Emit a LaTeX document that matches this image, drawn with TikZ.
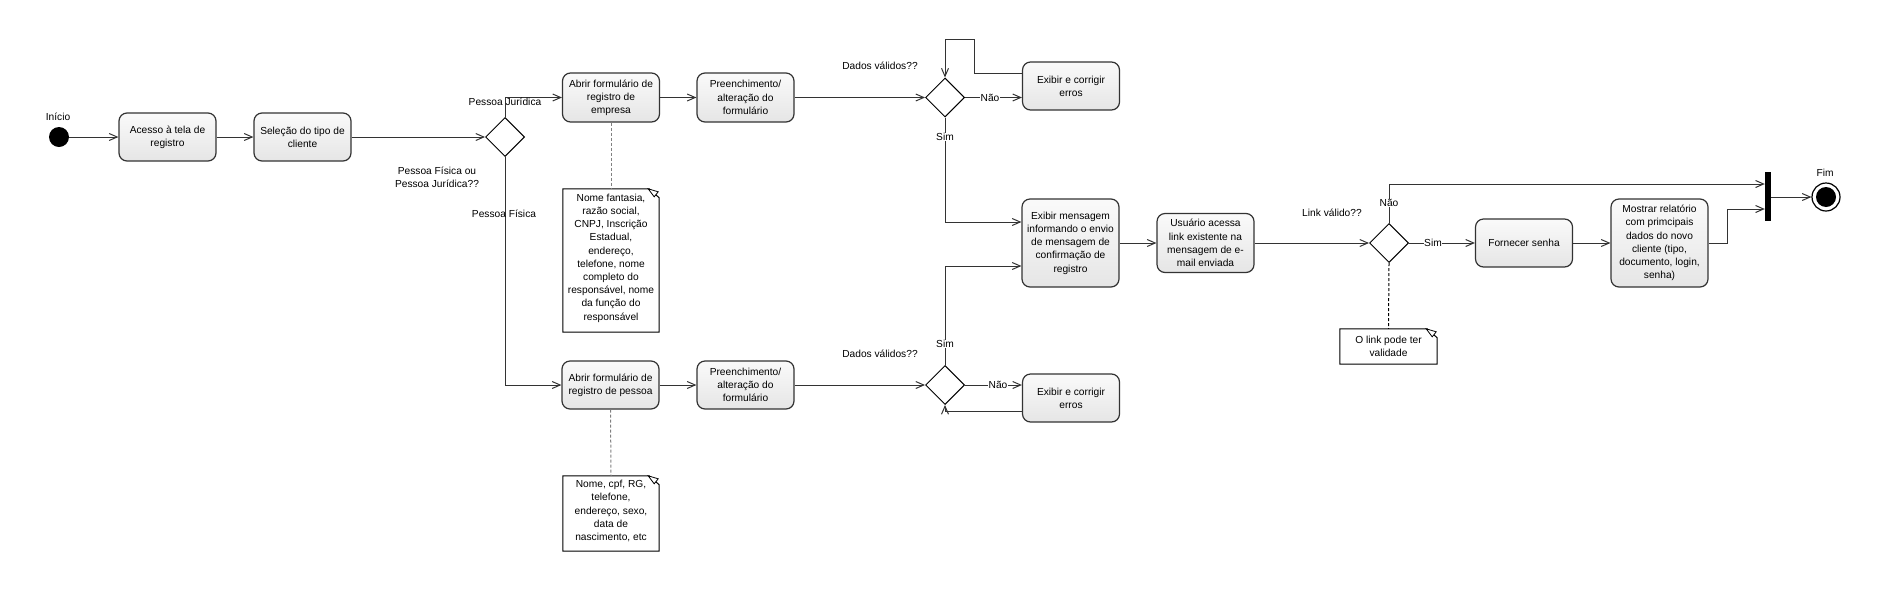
\documentclass[tikz,border=0pt]{standalone}
\usepackage{fontspec}
\setmainfont{Liberation Sans}
\usetikzlibrary{arrows.meta,shapes.geometric,calc}
\definecolor{edge}{HTML}{333333}
\tikzset{
  every node/.style={font=\fontsize{10.2}{13.2}\selectfont, align=center},
  act/.style={draw=edge, line width=1.2pt, rounded corners=8pt, top color=gray!4, bottom color=gray!20, inner sep=1pt, minimum width=97pt, minimum height=48pt},
  dec/.style={shape=diamond, draw=black, fill=white, line width=1pt, minimum width=39pt, minimum height=39pt, inner sep=0pt},
  notebox/.style={draw=none, inner sep=1pt, minimum width=96pt},
  arr/.style={draw=edge, line width=1pt, -{Straight Barb[length=8pt,width=7pt]}},
  ln/.style={draw=edge, line width=1pt},
  dsh/.style={draw=gray, line width=1pt, dash pattern=on 3pt off 2pt},
  lbl/.style={inner sep=0.5pt},
  onl/.style={inner sep=0.5pt, fill=white}
}
\newcommand\dogear[1]{%
  \draw[black, line width=1pt, fill=white] (#1.north west) -- ([xshift=-10pt]#1.north east) -- ([yshift=-9pt]#1.north east) -- (#1.south east) -- (#1.south west) -- cycle;
  \draw[black, line width=0.8pt, fill=white] ([xshift=-11pt]#1.north east) -- ([xshift=-1pt,yshift=-3pt]#1.north east) -- ([xshift=-5pt,yshift=-8pt]#1.north east) -- cycle;
}
\begin{document}
\begin{tikzpicture}[x=1pt,y=-1pt]
\useasboundingbox (0,0) rectangle (1882,590);

% start
\node[circle, fill=black, minimum size=20pt, inner sep=0pt] (ini) at (59,137) {};
\node[lbl] (tini) at (58,117) {Início};

% activities
\node[act] (b1) at (167.5,137) {Acesso à tela de\\registro};
\node[act] (b2) at (302.5,137) {Seleção do tipo de\\cliente};
\node[dec] (d1) at (505,137) {};
\node[act, minimum height=49pt] (b3) at (611,97.5) {Abrir formulário de\\registro de\\empresa};
\node[act, minimum height=49pt] (b4) at (745.5,97.5) {Preenchimento/\\alteração do\\formulário};
\node[act] (b5) at (610.5,385) {Abrir formulário de\\registro de pessoa};
\node[act] (b6) at (745.5,385) {Preenchimento/\\alteração do\\formulário};
\node[dec] (d2) at (945,97.5) {};
\node[act] (b7) at (1071,86) {Exibir e corrigir\\erros};
\node[dec] (d3) at (945,385) {};
\node[act] (b9) at (1071,398) {Exibir e corrigir\\erros};
\node[act, minimum height=88pt] (b8) at (1070.5,243) {Exibir mensagem\\informando o envio\\de mensagem de\\confirmação de\\registro};
\node[act, minimum height=59pt] (b10) at (1205.5,243) {Usuário acessa\\link existente na\\mensagem de e-\\mail enviada};
\node[dec] (d4) at (1389,243) {};
\node[act] (b11) at (1524,243) {Fornecer senha};
\node[act, minimum height=88pt] (b12) at (1659.5,243) {Mostrar relatório\\com primcipais\\dados do novo\\cliente (tipo,\\documento, login,\\senha)};
\node[fill=black, minimum width=6pt, minimum height=49pt, inner sep=0pt] (bar) at (1768,196.5) {};
\node[circle, draw=black, line width=1.2pt, fill=white, minimum size=28pt, inner sep=0pt] (fin) at (1826,197) {};
\fill[black] (fin.center) circle (10pt);
\node[lbl] (tfin) at (1825,173) {Fim};

% notes
\node[notebox, minimum height=143pt] (n1) at (611,260.5) {};
\dogear{n1}
\node[inner sep=0pt] (t1) at (611,258) {Nome fantasia,\\razão social,\\CNPJ, Inscrição\\Estadual,\\endereço,\\telefone, nome\\completo do\\responsável, nome\\da função do\\responsável};
\node[notebox, minimum height=75pt] (n2) at (611,513.5) {};
\dogear{n2}
\node[inner sep=0pt] (t2) at (611,511) {Nome, cpf, RG,\\telefone,\\endereço, sexo,\\data de\\nascimento, etc};
\node[notebox, minimum width=97pt, minimum height=35pt] (n3) at (1388.5,346.5) {};
\dogear{n3}
\node[inner sep=0pt] (t3) at (1388.5,346) {O link pode ter\\validade};

% connectors
\draw[arr] (ini) -- (b1);
\draw[arr] (b1) -- (b2);
\draw[arr] (b2) -- (d1);
\draw[arr] (d1.north) |- (b3.west);
\draw[arr] (d1.south) |- (b5.west);
\draw[arr] (b3) -- (b4);
\draw[arr] (b5) -- (b6);
\draw[arr] (b4) -- (d2);
\draw[arr] (b6) -- (d3);
\draw[arr] (d2.east) -- (d2.east -| b7.west);
\draw[arr] ([yshift=13pt]b7.west) -| (974,39) -| (d2.north);
\draw[arr] (d2.south) |- ([yshift=21pt]b8.west);
\draw[arr] (d3.east) -- (d3.east -| b9.west);
\draw[arr] ([yshift=-13pt]b9.west) -| (d3.south);
\draw[arr] (d3.north) |- ([yshift=-23pt]b8.west);
\draw[arr] (b8) -- (b10);
\draw[arr] (b10) -- (d4);
\draw[arr] (d4) -- (b11);
\draw[arr] (d4.north) |- ([yshift=12.5pt]bar.west);
\draw[arr] (b11) -- (b12);
\draw[arr] (b12.east) -- ++(19,0) |- ([yshift=-12.5pt]bar.west);
\draw[arr] (bar.east |- fin) -- (fin);
\draw[dsh] (b3.south) -- (n1.north);
\draw[dsh] (b5.south) -- (n2.north);
\draw[dsh, draw=black] (d4.south) -- (n3.north);

% labels
\node[lbl] (l1) at (505,102) {Pessoa Jurídica};
\node[lbl] (l2) at (437,177) {Pessoa Física ou\\Pessoa Jurídica??};
\node[lbl] (l3) at (504,214) {Pessoa Física};
\node[lbl] (l4) at (880,66) {Dados válidos??};
\node[onl] (l5) at (990,97.5) {Não};
\node[onl] (l6) at (945,137) {Sim};
\node[lbl] (l7) at (880,354) {Dados válidos??};
\node[onl] (l8) at (945,344) {Sim};
\node[onl] (l9) at (998,385) {Não};
\node[lbl] (l10) at (1332,213) {Link válido??};
\node[onl] (l11) at (1389,203) {Não};
\node[onl] (l12) at (1433,243) {Sim};
\end{tikzpicture}
\end{document}
